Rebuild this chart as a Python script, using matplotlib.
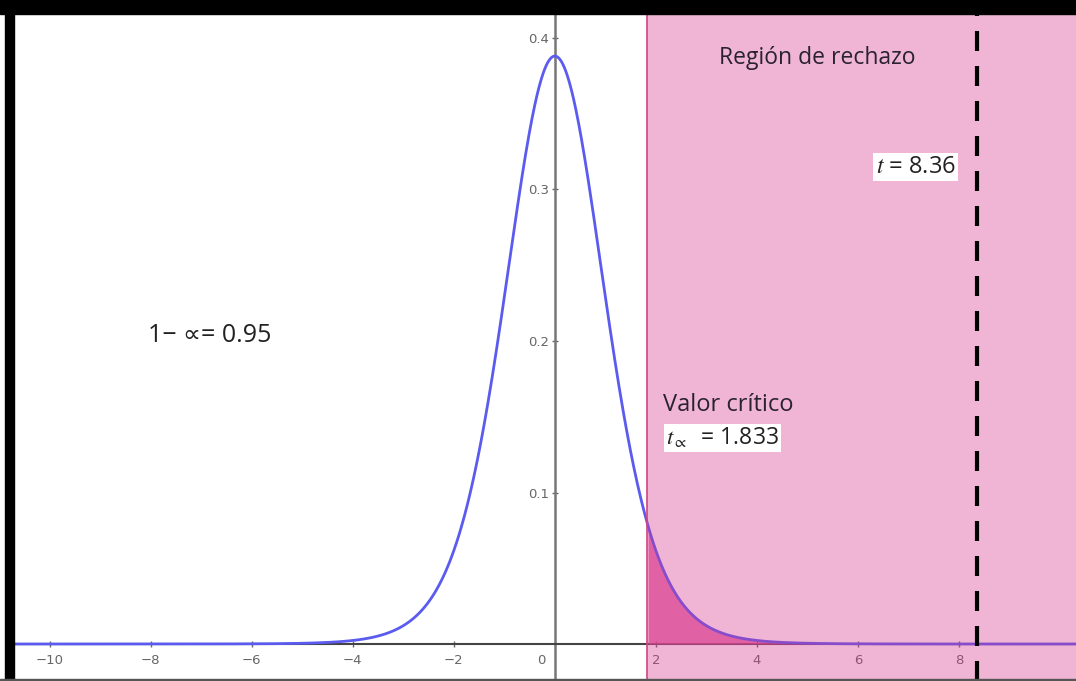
import math
import numpy as np
import matplotlib
matplotlib.use('Agg')
import matplotlib.pyplot as plt
from matplotlib.patches import Rectangle
from matplotlib.transforms import ScaledTranslation

plt.rcParams['mathtext.fontset'] = 'stix'

# t distribution used in the test
dof = 9
t_crit = 1.833
t_stat = 8.36
alpha_label = '1\u2212 \u221d= 0.95'

x_ticks = [-10, -8, -6, -4, -2, 2, 4, 6, 8]
y_ticks = [0.1, 0.2, 0.3, 0.4]
x_lim = (-10.71, 10.32)
y_lim = (-0.0244, 0.4158)


def t_pdf(x, k):
    c = math.gamma((k + 1) / 2) / (math.sqrt(k * math.pi) * math.gamma(k / 2))
    return c * (1 + x ** 2 / k) ** (-(k + 1) / 2)


W, H = 1076, 681
fig = plt.figure(figsize=(W / 100, H / 100), dpi=100)
ax = fig.add_axes([14 / W, 0, (W - 14) / W, (H - 14) / H])
ax.set_xlim(*x_lim)
ax.set_ylim(*y_lim)

xs = np.linspace(x_lim[0], x_lim[1], 1500)
ys = t_pdf(xs, dof)

# density curve
ax.plot(xs, ys, color='#5b5bf0', lw=2, zorder=4)

# rejection region
ax.axvspan(t_crit, x_lim[1], color='#d6338a', alpha=0.36, lw=0, zorder=5)
ax.axvline(t_crit, color='#d0457f', lw=1.2, zorder=5)
tail = xs >= t_crit
ax.fill_between(xs[tail], 0, ys[tail], color='#e0509a', alpha=0.75, lw=0, zorder=3)

# observed statistic
ax.axvline(t_stat, color='black', lw=3, dashes=(4.8, 3.6), zorder=6)

# axes through the origin
for side in ['top', 'right']:
    ax.spines[side].set_visible(False)
ax.spines['left'].set_position(('data', 0))
ax.spines['bottom'].set_position(('data', 0))
ax.spines['left'].set_color('#777777')
ax.spines['left'].set_linewidth(1.8)
ax.spines['bottom'].set_color('#444444')
ax.spines['bottom'].set_linewidth(1.5)
ax.spines['left'].set_zorder(2)
ax.spines['bottom'].set_zorder(2)

ax.set_xticks(x_ticks + [0])
ax.set_xticklabels(['\u2212%d' % -v if v < 0 else str(v) for v in x_ticks] + ['0'])
ax.set_yticks(y_ticks)
ax.set_yticklabels([str(v) for v in y_ticks])
ax.tick_params(axis='both', direction='inout', length=4, width=1,
               color='#666666', labelcolor='#666666', labelsize=9.5)
ax.tick_params(axis='x', pad=5)
ax.tick_params(axis='y', pad=2)
# origin label sits left of the vertical axis
lbl0 = ax.get_xticklabels()[-1]
lbl0.set_transform(lbl0.get_transform() + ScaledTranslation(-14 / 100, 0, fig.dpi_scale_trans))
ax.get_xticklines()[-2].set_visible(False)

# annotations
txt_font = ['Open Sans', 'DejaVu Sans']
ax.text(5.19, 0.387, 'Región de rechazo', fontsize=16.5, color='#2a2230',
        family=txt_font, ha='center', va='center', zorder=7)
ax.text(2.15, 0.158, 'Valor crítico', fontsize=17, color='#2a2230',
        family=txt_font, ha='left', va='center', zorder=7)
ax.text(2.2, 0.136, r'$t_{\propto}$  = 1.833', fontsize=16.5, color='#222222',
        family=txt_font, ha='left', va='center', zorder=7,
        bbox=dict(facecolor='white', edgecolor='none', pad=1.5))
ax.text(6.35, 0.3147, r'$t$ = 8.36', fontsize=17, color='#222222',
        family=txt_font, ha='left', va='center', zorder=7,
        bbox=dict(facecolor='white', edgecolor='none', pad=1.5))
ax.text(-8.06, 0.2035, alpha_label, fontsize=18, color='#222222',
        family=txt_font, ha='left', va='center', zorder=7)

# frame around the figure
fig.patches.append(Rectangle((0, 1 - 14 / H), 1, 14 / H, transform=fig.transFigure,
                             color='black', zorder=10))
fig.patches.append(Rectangle((5 / W, 0), 9 / W, 1, transform=fig.transFigure,
                             color='black', zorder=10))
fig.patches.append(Rectangle((0, 0), 1, 2 / H, transform=fig.transFigure,
                             color='#555555', zorder=10))

fig.savefig('out.png', dpi=100)
